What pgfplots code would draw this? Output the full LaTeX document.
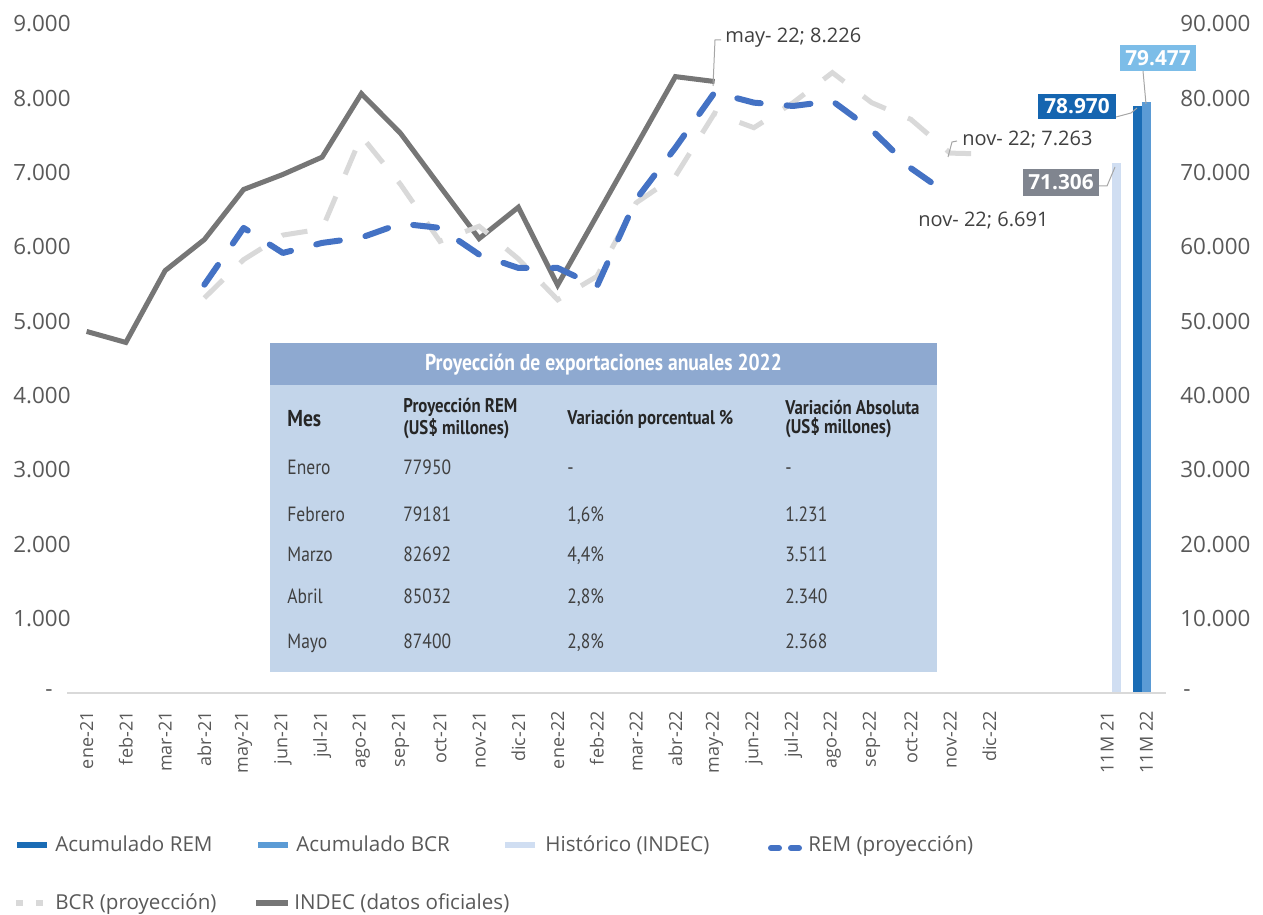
\documentclass[border=0pt]{standalone}
\usepackage{fontspec}
\setmainfont{Open Sans}
\newfontfamily\tabfont[FakeStretch=0.85]{PT Sans}
\usepackage{pgfplots}
\pgfplotsset{compat=1.18}
\definecolor{tick}{HTML}{595959}
\definecolor{lbltext}{HTML}{404040}
\definecolor{remacc}{HTML}{1A6CB5}
\definecolor{bcracc}{HTML}{5B9BD5}
\definecolor{hist}{HTML}{D0DEF2}
\definecolor{remline}{HTML}{4472C4}
\definecolor{bcrline}{HTML}{D9D9D9}
\definecolor{indec}{HTML}{767676}
\definecolor{thead}{HTML}{8EA9D0}
\definecolor{tbody}{HTML}{C3D5EA}
\definecolor{lbl79}{HTML}{7CBDE8}
\definecolor{lbl78}{HTML}{1565B0}
\definecolor{lbl71}{HTML}{80858F}
\definecolor{leader}{HTML}{A6A6A6}

\pgfplotstableread{
x y
0 4864
1 4716
2 5682
3 6100
4 6774
5 6976
6 7209
7 8063
8 7528
9 6818
10 6113
11 6535
12 5487
13 6422
14 7357
15 8292
16 8226
}\indectab

\pgfplotstableread{
x y
3 5493
4 6257
5 5920
6 6055
7 6127
8 6315
9 6257
10 5898
11 5718
12 5718
13 5470
14 6639
15 7336
16 8080
17 7942
18 7897
19 7964
20 7575
21 7060
22 6691
}\remtab

\pgfplotstableread{
x y
3 5314
4 5830
5 6160
6 6244
7 7492
8 6840
9 6077
10 6279
11 5840
12 5290
13 5605
14 6594
15 6953
16 7800
17 7605
18 7942
19 8346
20 7942
21 7717
22 7263
23 7250
}\bcrtab

\begin{document}
\begin{tikzpicture}
\useasboundingbox (0,0) rectangle (631.5pt,457.5pt);

% right axis: cumulative bars
\begin{axis}[
  at={(33.5pt,111pt)}, anchor=south west, scale only axis,
  width=549.5pt, height=334.5pt,
  xmin=-0.5, xmax=27.5, ymin=0, ymax=90000,
  axis line style={draw=none},
  xtick=\empty,
  scaled y ticks=false,
  ytick={0,10000,20000,30000,40000,50000,60000,70000,80000,90000},
  yticklabels={{\hspace{1.5pt}-},10.000,20.000,30.000,40.000,50.000,60.000,70.000,80.000,90.000},
  yticklabel pos=right,
  yticklabel style={anchor=west, inner sep=0pt, xshift=7pt, font=\fontsize{11.2}{13}\selectfont, text=tick},
  major tick length=0pt,
  clip=false,
]
\addplot[ybar, bar width=4.5pt, bar shift=4.5pt, fill=hist, draw=none] coordinates {(26,71306)};
\addplot[ybar, bar width=4.5pt, bar shift=-4.5pt, fill=remacc, draw=none] coordinates {(27,78970)};
\addplot[ybar, bar width=4.5pt, bar shift=0pt, fill=bcracc, draw=none] coordinates {(27,79477)};
\end{axis}

% left axis: monthly lines
\begin{axis}[
  at={(33.5pt,111pt)}, anchor=south west, scale only axis,
  width=549.5pt, height=334.5pt,
  xmin=-0.5, xmax=27.5, ymin=0, ymax=9000,
  separate axis lines,
  axis x line*=bottom, axis y line*=left,
  x axis line style={draw=bcrline, line width=0.75pt},
  y axis line style={draw=none},
  scaled y ticks=false,
  xtick={0,1,2,3,4,5,6,7,8,9,10,11,12,13,14,15,16,17,18,19,20,21,22,23,26,27},
  xticklabels={ene-21,feb-21,mar-21,abr-21,may-21,jun-21,jul-21,ago-21,sep-21,oct-21,nov-21,dic-21,ene-22,feb-22,mar-22,abr-22,may-22,jun-22,jul-22,ago-22,sep-22,oct-22,nov-22,dic-22,11M 21,11M 22},
  xticklabel style={rotate=90, anchor=east, inner sep=0pt, font=\fontsize{9}{10}\selectfont, text=tick},
  xticklabel shift=9pt,
  ytick={0,1000,2000,3000,4000,5000,6000,7000,8000,9000},
  yticklabels={{-\kern9pt},1.000,2.000,3.000,4.000,5.000,6.000,7.000,8.000,9.000},
  yticklabel style={anchor=east, inner sep=0pt, xshift=2pt, font=\fontsize{11.2}{13}\selectfont, text=tick},
  major tick length=0pt,
  clip=false,
]
\addplot[indec, line width=2.5pt, line join=miter] table[x=x,y=y] {\indectab};
\addplot[bcrline, line width=2.5pt, dash pattern=on 13pt off 12pt] table[x=x,y=y] {\bcrtab};
\addplot[remline, line width=3pt, line cap=round, line join=round, dash pattern=on 12pt off 13pt] table[x=x,y=y] {\remtab};
\end{axis}

% annotations, table and legend in pixel units of the reference
\begin{scope}[x=0.5pt, y=-0.5pt, yshift=457.5pt]
  % line labels
  \draw[leader, line width=0.5pt] (713,86) -- (715,40) -- (721,40);
  \node[anchor=west, inner sep=0pt, text=lbltext, font=\fontsize{10}{12}\selectfont] at (725,38) {may- 22; 8.226};
  \draw[leader, line width=0.5pt] (948,157) -- (952,142) -- (957,141);
  \node[anchor=west, inner sep=0pt, text=lbltext, font=\fontsize{10}{12}\selectfont] at (962,140) {nov- 22; 7.263};
  \node[anchor=west, inner sep=0pt, text=lbltext, font=\fontsize{10}{12}\selectfont] at (918,221) {nov- 22; 6.691};

  % bar labels
  \draw[leader, line width=0.5pt] (1143,71) -- (1146,104);
  \node[fill=lbl79, text=white, inner sep=0pt, minimum width=38pt, minimum height=13pt, font=\bfseries\fontsize{10.4}{12}\selectfont] at (1158,58) {79.477};
  \draw[leader, line width=0.5pt] (1116,117) -- (1131,113) -- (1137,108);
  \node[fill=lbl78, text=white, inner sep=0pt, minimum width=39pt, minimum height=12.5pt, font=\bfseries\fontsize{10.4}{12}\selectfont] at (1077,106.5) {78.970};
  \draw[leader, line width=0.5pt] (1099,186) -- (1107,186) -- (1115,167);
  \node[fill=lbl71, text=white, inner sep=0pt, minimum width=38pt, minimum height=13.5pt, font=\bfseries\fontsize{10.4}{12}\selectfont] at (1061,182.5) {71.306};

  % table
  \fill[thead] (270,343) rectangle (937,385);
  \fill[tbody] (270,385) rectangle (937,672);
  \node[text=white, inner sep=0pt, font=\tabfont\bfseries\fontsize{11.5}{13}\selectfont] at (603.5,365) {Proyección de exportaciones anuales 2022};
  \begin{scope}[every node/.style={inner sep=0pt, text=lbltext, font=\tabfont\fontsize{10.3}{12}\selectfont}]
    \node[anchor=west, font=\tabfont\bfseries\fontsize{11.5}{13}\selectfont, text=black!85] at (287,419) {Mes};
    \node[anchor=west, align=left, font=\tabfont\bfseries\fontsize{9.9}{9.5}\selectfont, text=black!85] at (403,419) {Proyección REM\\(US\$ millones)};
    \node[anchor=west, font=\tabfont\bfseries\fontsize{9.9}{9.5}\selectfont, text=black!85] at (567,419) {Variación porcentual \%};
    \node[anchor=west, align=left, font=\tabfont\bfseries\fontsize{9.9}{9.5}\selectfont, text=black!85] at (785,419) {Variación Absoluta\\(US\$ millones)};
    \foreach \yy/\m/\p/\v/\a in {468/Enero/77950/-/-, 515/Febrero/79181/{1,6\%}/1.231, 555/Marzo/82692/{4,4\%}/3.511, 597/Abril/85032/{2,8\%}/2.340, 642/Mayo/87400/{2,8\%}/2.368}{
      \node[anchor=base west] at (287,\yy+7) {\m};
      \node[anchor=base west] at (403,\yy+7) {\p};
      \node[anchor=base west] at (567,\yy+7) {\v};
      \node[anchor=base west] at (785,\yy+7) {\a};
    }
  \end{scope}

  % legend
  \begin{scope}[every node/.style={anchor=base west, inner sep=0pt, text=tick, font=\fontsize{10.3}{12}\selectfont}]
    \fill[remacc] (17,842) rectangle (47,848);
    \node at (55,852) {Acumulado REM};
    \fill[bcracc] (258,842) rectangle (288,848);
    \node at (296,852) {Acumulado BCR};
    \fill[hist] (505,842) rectangle (535,848);
    \node at (545,852) {Histórico (INDEC)};
    \draw[remline, line width=3pt, line cap=round] (771,848) -- (779,848);
    \draw[remline, line width=3pt, line cap=round] (791,848) -- (799,848);
    \node at (808,852) {REM (proyección)};
    \fill[bcrline] (16,900) rectangle (23,906);
    \fill[bcrline] (36,900) rectangle (43,906);
    \node at (55,910) {BCR (proyección)};
    \fill[indec] (256,900) rectangle (288,906);
    \node at (294,910) {INDEC (datos oficiales)};
  \end{scope}
\end{scope}
\end{tikzpicture}
\end{document}
